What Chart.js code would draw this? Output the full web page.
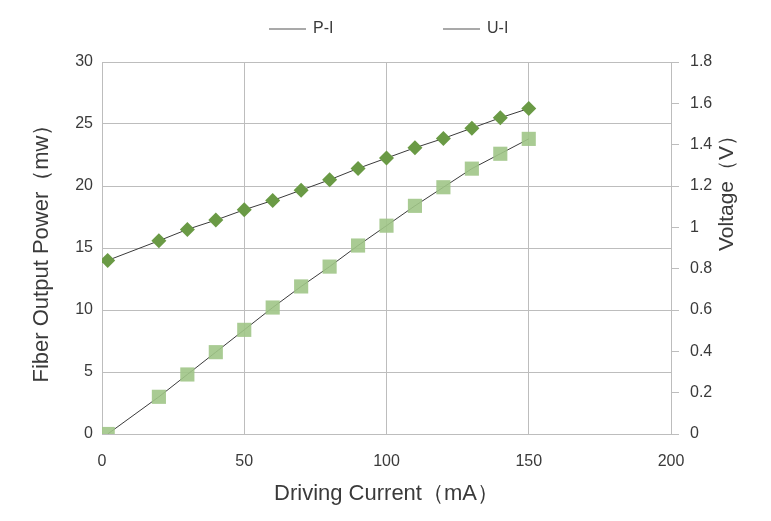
<!DOCTYPE html>
<html>
<head>
<meta charset="utf-8">
<script src="https://cdn.jsdelivr.net/npm/chart.js@4.4.0/dist/chart.umd.min.js"></script>
<style>
  html, body { margin: 0; padding: 0; background: #fff; }
</style>
</head>
<body>
<canvas id="chart" width="771" height="521"></canvas>
<script>
// driving current (mA)
const currents = [2, 20, 30, 40, 50, 60, 70, 80, 90, 100, 110, 120, 130, 140, 150];
// P-I : fiber output power (mW), left axis
const powerValues = [0, 3.0, 4.8, 6.6, 8.4, 10.2, 11.9, 13.5, 15.2, 16.8, 18.4, 19.9, 21.4, 22.6, 23.8];
// U-I : voltage (V), right axis
const voltageValues = [0.84, 0.935, 0.99, 1.035, 1.085, 1.13, 1.18, 1.23, 1.285, 1.335, 1.385, 1.43, 1.48, 1.53, 1.575];
const seriesNames = ["P-I", "U-I"];
const xTitle = "Driving Current（mA）";
const yLeftTitle = "Fiber Output Power（mw）";
const yRightTitle = "Voltage（V）";

const FONT = "'Liberation Sans', Arial, sans-serif";
const gridColor = "#bdbdbd";
const textColor = "#3a3a3a";

function toPoints(xs, ys) {
  return xs.map((x, i) => ({ x: x, y: ys[i] }));
}

// legend (line samples only) and the right hand title, drawn like Excel does it
const extras = {
  id: "extras",
  afterDraw(chart) {
    const ctx = chart.ctx;
    ctx.save();
    const starts = [269, 443];
    chart.data.datasets.forEach((ds, i) => {
      const x0 = starts[i];
      ctx.strokeStyle = "#8c8c8c";
      ctx.lineWidth = 1.5;
      ctx.beginPath();
      ctx.moveTo(x0, 29);
      ctx.lineTo(x0 + 37, 29);
      ctx.stroke();
      ctx.fillStyle = textColor;
      ctx.font = "16px " + FONT;
      ctx.textBaseline = "middle";
      ctx.textAlign = "left";
      ctx.fillText(ds.label, x0 + 44, 29);
    });
    ctx.translate(727, 188);
    ctx.rotate(-Math.PI / 2);
    ctx.font = "21px " + FONT;
    ctx.textAlign = "center";
    ctx.textBaseline = "middle";
    ctx.fillText(yRightTitle, 0, 0);
    ctx.restore();
  }
};

new Chart(document.getElementById("chart"), {
  type: "line",
  data: {
    datasets: [
      {
        label: seriesNames[0],
        data: toPoints(currents, powerValues),
        yAxisID: "y",
        borderColor: "#3a3a3a",
        borderWidth: 1,
        pointStyle: "rect",
        pointRadius: 10,
        pointBorderWidth: 0,
        pointBackgroundColor: "rgba(160,197,135,0.9)",
        tension: 0
      },
      {
        label: seriesNames[1],
        data: toPoints(currents, voltageValues),
        yAxisID: "y1",
        borderColor: "#3a3a3a",
        borderWidth: 1,
        pointStyle: "rectRot",
        pointRadius: 7.5,
        pointBorderWidth: 0,
        pointBackgroundColor: "#6a9a45",
        tension: 0
      }
    ]
  },
  options: {
    responsive: false,
    animation: false,
    devicePixelRatio: 1,
    layout: { padding: { top: 62, left: 0, right: 0, bottom: 0 } },
    plugins: {
      legend: { display: false },
      tooltip: { enabled: false }
    },
    scales: {
      x: {
        type: "linear",
        min: 0,
        max: 200,
        ticks: { stepSize: 50, padding: 18, color: textColor, font: { family: FONT, size: 16 } },
        grid: { color: gridColor, drawTicks: false },
        border: { color: gridColor },
        title: {
          display: true,
          text: xTitle,
          color: textColor,
          font: { family: FONT, size: 22 },
          padding: { top: 0, bottom: 14 }
        },
        afterFit(scale) { scale.height = 87; }
      },
      y: {
        position: "left",
        min: 0,
        max: 30,
        ticks: { stepSize: 5, padding: 9, color: textColor, font: { family: FONT, size: 16 } },
        grid: { color: gridColor, drawTicks: false },
        border: { color: gridColor },
        title: {
          display: true,
          text: yLeftTitle,
          color: textColor,
          font: { family: FONT, size: 22 },
          padding: { top: 29, bottom: 0 }
        },
        afterFit(scale) { scale.width = 102; }
      },
      y1: {
        position: "right",
        min: 0,
        max: 1.8,
        ticks: {
          stepSize: 0.2,
          padding: 11,
          color: textColor,
          font: { family: FONT, size: 16 },
          callback: v => String(Number(v.toFixed(1)))
        },
        grid: { color: gridColor, drawOnChartArea: false, tickLength: 8 },
        border: { color: gridColor },
        afterFit(scale) { scale.width = 100; }
      }
    }
  },
  plugins: [extras]
});
</script>
</body>
</html>
